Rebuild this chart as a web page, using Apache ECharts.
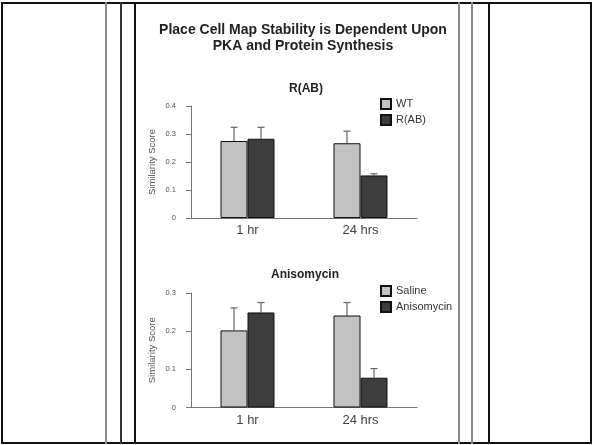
<!DOCTYPE html>
<html>
<head>
<meta charset="utf-8">
<script src="https://cdn.jsdelivr.net/npm/echarts@6/dist/echarts.min.js"></script>
<style>
  html, body { margin: 0; padding: 0; background: #fff; }
  #wrap { position: relative; width: 593px; height: 445px; overflow: hidden; }
  .frame { position: absolute; left: 1px; top: 2px; width: 587px; height: 438px; border: 2px solid #111; }
  .vl { position: absolute; top: 2px; height: 442px; }
  #chart { position: absolute; left: 0; top: 0; width: 593px; height: 445px; }
</style>
</head>
<body>
<div id="wrap">
  <div class="frame"></div>
  <div class="vl" style="left:105px;width:2px;background:#8a8a8a"></div>
  <div class="vl" style="left:120px;width:2px;background:#333"></div>
  <div class="vl" style="left:134px;width:2px;background:#111"></div>
  <div class="vl" style="left:458px;width:2px;background:#8a8a8a"></div>
  <div class="vl" style="left:471px;width:2px;background:#8a8a8a"></div>
  <div class="vl" style="left:488px;width:2px;background:#111"></div>
  <div id="chart"></div>
</div>
<script>
// ---- data ----
const categories = ['1 hr', '24 hrs'];
const topTitle = 'R(AB)';
const wtMean = [0.275, 0.267];
const wtErr = [0.049, 0.043];
const rabMean = [0.283, 0.152];
const rabErr = [0.041, 0.006];
const bottomTitle = 'Anisomycin';
const salineMean = [0.202, 0.241];
const salineErr = [0.059, 0.034];
const anisoMean = [0.249, 0.078];
const anisoErr = [0.026, 0.024];
const topTicks = { min: 0, max: 0.4, interval: 0.1 };
const bottomTicks = { min: 0, max: 0.3, interval: 0.1 };

const LIGHT = '#c2c2c2';
const DARK = '#3d3d3d';
const BAR_W = 27;

function errData(mean, err) {
  return mean.map((m, i) => [i, m, err[i]]);
}
function errSeries(mean, err, side, gi) {
  return {
    type: 'custom',
    xAxisIndex: gi, yAxisIndex: gi,
    data: errData(mean, err),
    encode: { x: 0, y: 1 },
    z: 1,
    silent: true,
    renderItem: function (params, api) {
      const c = api.value(0), m = api.value(1), e = api.value(2);
      const p0 = api.coord([c, m]);
      const p1 = api.coord([c, m + e]);
      const x = p0[0] + side * BAR_W / 2;
      const st = { stroke: '#666', lineWidth: 1.2 };
      return {
        type: 'group',
        children: [
          { type: 'line', shape: { x1: x, y1: p0[1], x2: x, y2: p1[1] }, style: st },
          { type: 'line', shape: { x1: x - 3.5, y1: p1[1], x2: x + 3.5, y2: p1[1] }, style: st }
        ]
      };
    }
  };
}
function barSeries(name, data, color, gi) {
  return {
    name: name, type: 'bar', xAxisIndex: gi, yAxisIndex: gi,
    data: data, barWidth: BAR_W, barGap: '0%', z: 2,
    itemStyle: { color: color, borderColor: '#111', borderWidth: 1 }
  };
}
function yAxis(gi, t) {
  return {
    type: 'value', gridIndex: gi, min: t.min, max: t.max, interval: t.interval,
    name: 'Similarity Score', nameLocation: 'middle', nameGap: 34, nameRotate: 90,
    nameTextStyle: { fontSize: 9.5, color: '#555', fontFamily: 'Liberation Sans' },
    axisLine: { show: true, lineStyle: { color: '#777', width: 1 } },
    axisTick: { show: true, length: 5, lineStyle: { color: '#777' } },
    axisLabel: { fontSize: 7.5, color: '#555', margin: 15, fontFamily: 'Liberation Sans' },
    splitLine: { show: false }
  };
}
function xAxis(gi) {
  return {
    type: 'category', gridIndex: gi, data: categories,
    axisLine: { show: true, lineStyle: { color: '#777', width: 1 } },
    axisTick: { show: false },
    axisLabel: { fontSize: 13, color: '#444', margin: 6, fontFamily: 'Liberation Sans' }
  };
}
function legend(names, top) {
  return {
    data: names, orient: 'vertical', left: 375, top: top,
    itemWidth: 10, itemHeight: 10, itemGap: 4, icon: 'rect',
    textStyle: { fontSize: 11, color: '#333', fontFamily: 'Liberation Sans' },
    selectedMode: false
  };
}

const chart = echarts.init(document.getElementById('chart'), null, { renderer: 'canvas' });
chart.setOption({
  animation: false,
  title: [
    { text: 'Place Cell Map Stability is Dependent Upon\nPKA and Protein Synthesis',
      left: 298, top: 17, textAlign: 'center',
      textStyle: { fontSize: 14, fontWeight: 'bold', color: '#222', lineHeight: 16, fontFamily: 'Liberation Sans' } },
    { text: topTitle, left: 301, top: 78, textAlign: 'center',
      textStyle: { fontSize: 12, fontWeight: 'bold', color: '#222', fontFamily: 'Liberation Sans' } },
    { text: bottomTitle, left: 300, top: 264, textAlign: 'center',
      textStyle: { fontSize: 12, fontWeight: 'bold', color: '#222', fontFamily: 'Liberation Sans' } }
  ],
  legend: [legend(['WT', 'R(AB)'], 93), legend(['Saline', 'Anisomycin'], 280)],
  grid: [
    { left: 191, top: 106, width: 226, height: 112 },
    { left: 191, top: 293, width: 226, height: 114.5 }
  ],
  xAxis: [xAxis(0), xAxis(1)],
  yAxis: [yAxis(0, topTicks), yAxis(1, bottomTicks)],
  series: [
    barSeries('WT', wtMean, LIGHT, 0),
    barSeries('R(AB)', rabMean, DARK, 0),
    errSeries(wtMean, wtErr, -1, 0),
    errSeries(rabMean, rabErr, 1, 0),
    barSeries('Saline', salineMean, LIGHT, 1),
    barSeries('Anisomycin', anisoMean, DARK, 1),
    errSeries(salineMean, salineErr, -1, 1),
    errSeries(anisoMean, anisoErr, 1, 1)
  ]
});
</script>
</body>
</html>
